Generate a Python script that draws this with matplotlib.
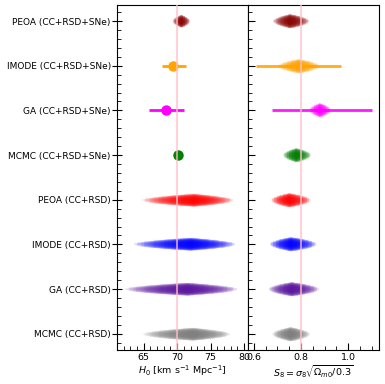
import numpy as np
import matplotlib
matplotlib.use("Agg")
import matplotlib.pyplot as plt

labels = ['PEOA (CC+RSD+SNe)', 'IMODE (CC+RSD+SNe)', 'GA (CC+RSD+SNe)',
          'MCMC (CC+RSD+SNe)', 'PEOA (CC+RSD)', 'IMODE (CC+RSD)',
          'GA (CC+RSD)', 'MCMC (CC+RSD)']
colors = ['darkred', 'orange', 'magenta', 'green', 'red', 'blue',
          '#5b14a0', 'gray']

# H0: centre, fuzzy spread (lower, upper), thin bar (lower, upper)
h0 = [70.6, 69.4, 68.4, 70.1, 72.5, 72.0, 71.5, 72.3]
h0_lo = [0.5, 0.0, 0.0, 0.0, 3.0, 3.3, 3.6, 2.9]
h0_hi = [0.5, 0.0, 0.0, 0.0, 2.3, 2.6, 2.9, 2.2]
h0_bar_lo = [0.0, 1.7, 2.6, 0.3, 0.0, 0.0, 0.0, 0.0]
h0_bar_hi = [0.0, 2.0, 2.7, 0.3, 0.0, 0.0, 0.0, 0.0]

# S8
s8 = [0.753, 0.79, 0.88, 0.78, 0.75, 0.757, 0.76, 0.755]
s8_lo = [0.028, 0.035, 0.018, 0.022, 0.03, 0.035, 0.038, 0.03]
s8_hi = [0.032, 0.035, 0.018, 0.024, 0.035, 0.042, 0.045, 0.032]
s8_bar_lo = [0.0, 0.18, 0.205, 0.0, 0.0, 0.0, 0.0, 0.0]
s8_bar_hi = [0.0, 0.18, 0.22, 0.0, 0.0, 0.0, 0.0, 0.0]

H0_REF = 70.0
S8_REF = 0.8


def fuzzy(ax, x, y, lo, hi, color, thick=8.0, n=40, ext=2.6):
    # stack of translucent bars: long thin ones outside, short thick in the middle
    for k in range(n):
        f = (k + 0.5) / n
        ax.errorbar(x, y, xerr=[[lo * ext * f], [hi * ext * f]], fmt='none',
                    ecolor=color, elinewidth=thick * (1 - f) ** 0.55 + 0.6,
                    alpha=0.08, capsize=0)


fig, (ax1, ax2) = plt.subplots(1, 2, sharey=True, figsize=(3.85, 3.84), dpi=100)
fig.subplots_adjust(left=0.304, right=0.984, bottom=0.089, top=0.987, wspace=0)

ypos = np.arange(len(labels))
for i, y in enumerate(ypos):
    c = colors[i]
    # left panel
    if h0_lo[i] > 0:
        fuzzy(ax1, h0[i], y, h0_lo[i], h0_hi[i], c, thick=9.0)
    else:
        ax1.errorbar(h0[i], y, xerr=[[h0_bar_lo[i]], [h0_bar_hi[i]]], fmt='o',
                     color=c, ms=6.5, elinewidth=2, capsize=0)
    # right panel
    if s8_bar_lo[i] > 0:
        ax2.errorbar(s8[i], y, xerr=[[s8_bar_lo[i]], [s8_bar_hi[i]]], fmt='none',
                     ecolor=c, elinewidth=2, alpha=0.9, capsize=0)
    fuzzy(ax2, s8[i], y, s8_lo[i], s8_hi[i], c, thick=10.0)

for ax, ref in ((ax1, H0_REF), (ax2, S8_REF)):
    ax.axvline(ref, color='pink', alpha=0.7, lw=1.5, zorder=10)
    ax.tick_params(axis='x', which='both', direction='in', labelsize=6.8, pad=2)
    ax.tick_params(axis='x', which='major', length=5)
    ax.tick_params(axis='x', which='minor', length=3)
    ax.tick_params(axis='y', which='minor', direction='in', length=3)

ax1.set_yticks(ypos)
ax1.set_yticklabels(labels, fontsize=6.5)
ax1.set_yticks(np.arange(-0.2, 7.4, 0.2), minor=True)
ax1.set_ylim(7.36, -0.36)
ax1.tick_params(axis='y', which='major', direction='inout', length=7, pad=1)
ax2.tick_params(axis='y', which='major', direction='in', length=5)

ax1.set_xlim(61, 80.6)
ax1.set_xticks([65, 70, 75, 80])
ax1.set_xticks(np.arange(62, 81, 1), minor=True)
ax1.set_xlabel(r'$H_0$ [km s$^{-1}$ Mpc$^{-1}$]', fontsize=6.8, labelpad=1)

ax2.set_xlim(0.575, 1.13)
ax2.set_xticks([0.6, 0.8, 1.0])
ax2.set_xticks(np.arange(0.6, 1.13, 0.05), minor=True)
ax2.set_xlabel(r'$S_8=\sigma_8\sqrt{\Omega_{m0}/0.3}$', fontsize=6.8, labelpad=1)

fig.savefig('out.png', dpi=100)
